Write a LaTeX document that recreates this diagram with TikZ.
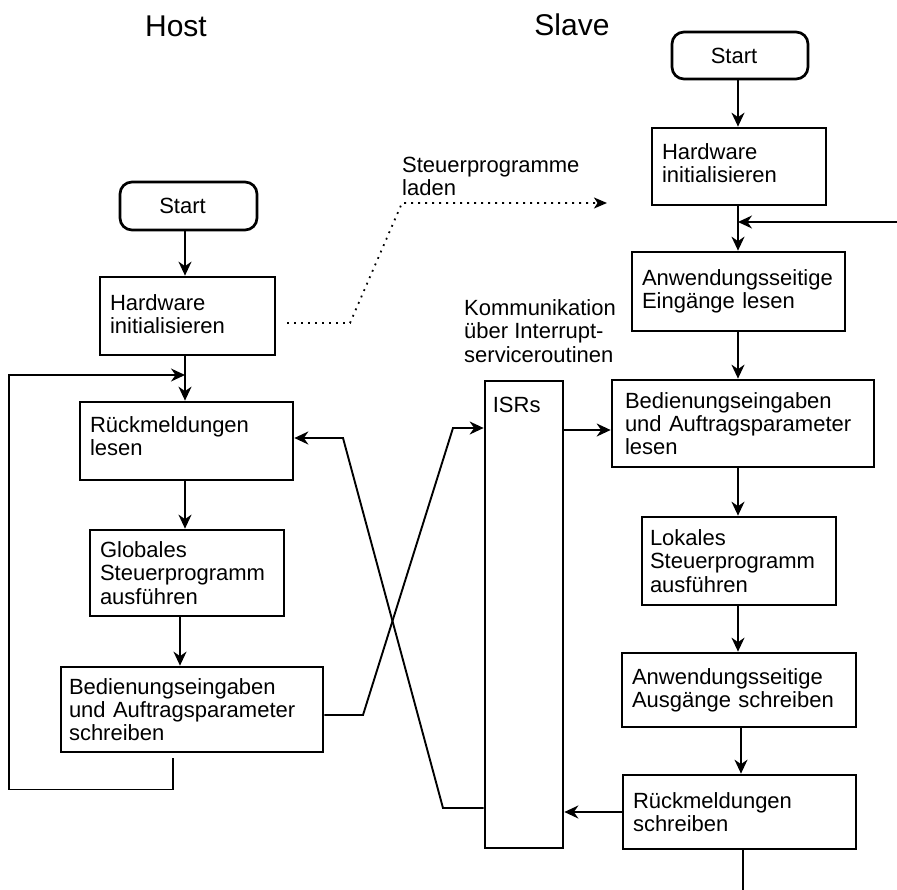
\documentclass[tikz,border=0pt]{standalone}
\usepackage{fontspec}
\setmainfont{Liberation Sans}
\usetikzlibrary{arrows.meta,calc}
\newcommand{\txtup}[1]{\par\nointerlineskip\kern#1}

\begin{document}
\begin{tikzpicture}[x=1pt, y=-1pt,
		box/.style={draw, line width=2.7pt, align=left, inner xsep=10pt, inner ysep=0pt, font=\fontsize{22pt}{23.2pt}\selectfont},
		startbox/.style={draw, line width=2.7pt, rounded corners=12pt, font=\fontsize{22pt}{23.2pt}\selectfont},
		txt/.style={align=left, inner sep=0pt, font=\fontsize{22pt}{23.2pt}\selectfont},
		title/.style={inner sep=0pt, font=\fontsize{30pt}{32pt}\selectfont},
		arr/.style={line width=1.9pt, -{Stealth[length=14pt, width=13pt, inset=4.5pt]}},
		thinarr/.style={line width=1.4pt, -{Stealth[length=14pt, width=13pt, inset=4.5pt]}},
		dotarr/.style={line width=1.8pt, dash pattern=on 1.8pt off 5.2pt, -{Stealth[length=13pt, width=11pt, inset=3.5pt]}}]
		%%%%% START %%%%%
		\useasboundingbox (0,0) rectangle (897,889);
		
		\node[title, anchor=base] (host) at (176,36) {Host};
		\node[title, anchor=base] (slave) at (572,35) {Slave};
		
		% host side
		\node[startbox, minimum width=137pt, minimum height=48pt] (starth) at (188.5,206) {\kern-12pt Start};
		\node[box, minimum width=175pt, minimum height=78pt, text width=155pt] (hwh) at (187.5,316) {Hardware\\initialisieren\txtup{4pt}};
		\node[box, minimum width=213pt, minimum height=78pt, text width=193pt] (rueckh) at (186.5,441) {Rückmeldungen\\lesen\txtup{10pt}};
		\node[box, minimum width=194pt, minimum height=86pt, text width=174pt] (globh) at (187,573) {Globales\\Steuerprogramm\\ausführen};
		\node[box, minimum width=262pt, minimum height=85pt, text width=246pt, inner xsep=8pt] (bedh) at (192,709.5) {Bedienungseingaben\\und Auftragsparameter\\schreiben};
		
		% slave side
		\node[startbox, minimum width=136pt, minimum height=47pt] (starts) at (740,55.5) {\kern-12pt Start};
		\node[box, minimum width=174pt, minimum height=77pt, text width=154pt] (hws) at (739,166.5) {Hardware\\initialisieren\txtup{6pt}};
		\node[box, minimum width=213pt, minimum height=79pt, text width=193pt] (anwein) at (738.5,291.5) {Anwendungsseitige\\Eingänge lesen};
		\node[box, minimum width=262pt, minimum height=87pt, text width=236pt, inner xsep=13pt] (beds) at (743,423.5) {Bedienungseingaben\\und Auftragsparameter\\lesen};
		\node[box, minimum width=194pt, minimum height=88pt, text width=178pt, inner xsep=8pt] (loks) at (739,561) {Lokales\\Steuerprogramm\\ausführen};
		\node[box, minimum width=234pt, minimum height=74pt, text width=214pt] (anwaus) at (739,690) {Anwendungsseitige\\Ausgänge schreiben};
		\node[box, minimum width=233pt, minimum height=74pt, text width=213pt] (rueckschr) at (739.5,812) {Rückmeldungen\\schreiben};
		
		% ISRs
		\node[box, minimum width=78pt, minimum height=467pt] (isrs) at (524,614.5) {};
		\node[txt, anchor=base west] (isrstxt) at ($(isrs.north west)+(9,33)$) {ISRs};
		\node[txt, anchor=north west] (komm) at (464,299.5) {Kommunikation\\über Interrupt-\\serviceroutinen};
		
		% host flow
		\coordinate (hcol) at (185,0);
		\draw[arr] (starth.south -| hcol) -- (hwh.north -| hcol);
		\draw[arr] (hwh.south -| hcol) -- (rueckh.north -| hcol);
		\draw[arr] (rueckh.south -| hcol) -- (globh.north -| hcol);
		\draw[arr] ([xshift=-5pt]globh.south -| hcol) -- ([xshift=-5pt]bedh.north -| hcol);
		
		\coordinate (loopy) at (9,375);
		\draw[thinarr] ([xshift=-19pt, yshift=-5pt]bedh.south) -- ++(0,31) -| (loopy) -- (hcol |- loopy);
		
		% slave flow
		\coordinate (scol) at (738,0);
		\draw[arr] (starts.south -| scol) -- (hws.north -| scol);
		\draw[arr] (hws.south -| scol) -- (anwein.north -| scol);
		\draw[arr] (anwein.south -| scol) -- (beds.north -| scol);
		\draw[arr] (beds.south -| scol) -- (loks.north -| scol);
		\draw[arr] (loks.south -| scol) -- (anwaus.north -| scol);
		\draw[arr] ([xshift=3pt]anwaus.south -| scol) -- ([xshift=3pt]rueckschr.north -| scol);
		\draw[arr, -] ([xshift=5pt]rueckschr.south -| scol) -- ++(0,40);
		
		\coordinate (sin) at (897,222);
		\draw[thinarr] (sin) -- (sin -| scol);
		
		% ISRs connections
		\draw[arr] ([yshift=-6.5pt]beds.west -| isrs.east) -- ([yshift=-6.5pt]beds.west);
		\draw[arr] (rueckschr.west) -- (rueckschr.west -| isrs.east);
		
		\coordinate (bx1) at (363,715);
		\coordinate (bx2) at (453,428);
		\draw[arr] (bx1 -| bedh.east) -- (bx1) -- (bx2) -- (bx2 -| isrs.west);
		
		\coordinate (rx1) at (443,808);
		\coordinate (rx2) at (343,438);
		\draw[arr] (rx1 -| isrs.west) -- (rx1) -- (rx2) -- (rx2 -| rueckh.east);
		
		% download of control programs
		\coordinate (d0) at (287,323);
		\coordinate (d1) at (350,323);
		\coordinate (d2) at (402,203);
		\coordinate (d3) at (607,203);
		\draw[dotarr] (d0) -- (d1) -- (d2) -- (d3);
		\node[txt, anchor=north west] (laden) at (402,157) {Steuerprogramme\\laden};
		%%%%% END %%%%%
\end{tikzpicture}
\end{document}
